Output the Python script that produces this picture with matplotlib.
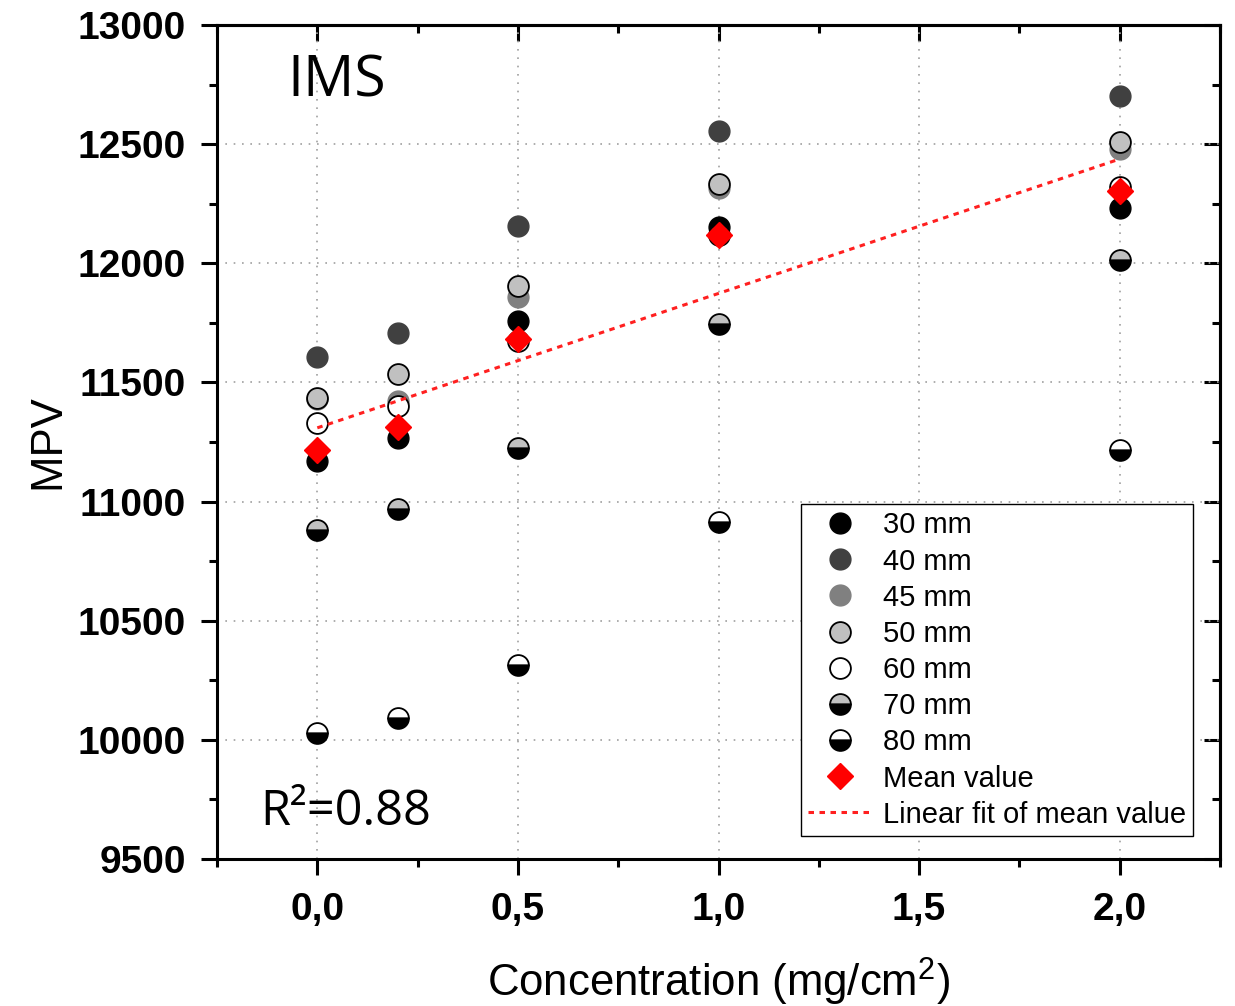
import numpy as np
import matplotlib
matplotlib.use('Agg')
import matplotlib.pyplot as plt
from matplotlib.ticker import MultipleLocator, FuncFormatter

plt.rcParams['font.family'] = ['Liberation Sans', 'DejaVu Sans']
plt.rcParams['mathtext.fontset'] = 'custom'
plt.rcParams['mathtext.rm'] = 'Liberation Sans'

# concentration (mg/cm2)
conc = [0.0, 0.2, 0.5, 1.0, 2.0]

# MPV per distance
mpv_30 = [11170, 11267, 11758, 12152, 12232]
mpv_40 = [11607, 11708, 12157, 12555, 12702]
mpv_45 = [11430, 11422, 11859, 12315, 12480]
mpv_50 = [11435, 11535, 11905, 12333, 12509]
mpv_60 = [11330, 11401, 11674, 12120, 12320]
mpv_70 = [10881, 10969, 11225, 11745, 12014]
mpv_80 = [10029, 10092, 10314, 10914, 11217]
mpv_mean = [11217, 11313, 11682, 12119, 12303]

labels = ['30 mm', '40 mm', '45 mm', '50 mm', '60 mm', '70 mm', '80 mm']

fig = plt.figure(figsize=(12.35, 10.06), dpi=100)
ax = fig.add_axes([217/1235, 1-859/1006, 1003/1235, 834/1006])

ms = 15
ax.plot(conc, mpv_30, 'o', ms=ms, color='black', mec='black', label=labels[0])
ax.plot(conc, mpv_40, 'o', ms=ms, color='#404040', mec='#404040', label=labels[1])
ax.plot(conc, mpv_45, 'o', ms=ms, color='#808080', mec='#808080', label=labels[2])
ax.plot(conc, mpv_50, 'o', ms=ms, mfc='#c0c0c0', mec='black', mew=1.3, label=labels[3])
ax.plot(conc, mpv_60, 'o', ms=ms, mfc='white', mec='black', mew=1.3, label=labels[4])
ax.plot(conc, mpv_70, 'o', ms=ms, fillstyle='top', mfc='#c0c0c0', mfcalt='black',
        mec='black', mew=1.3, label=labels[5])
ax.plot(conc, mpv_80, 'o', ms=ms, fillstyle='top', mfc='white', mfcalt='black',
        mec='black', mew=1.3, label=labels[6])
ax.plot(conc, mpv_mean, 'D', ms=13, color='red', mec='red', label='Mean value')

# linear fit of the means
k, b = np.polyfit(conc, mpv_mean, 1)
xf = np.array([conc[0], conc[-1]])
ax.plot(xf, k*xf + b, color='#ff2020', lw=2.2, ls=(0, (1.8, 1.8)),
        label='Linear fit of mean value')

ax.set_xlim(-0.25, 2.25)
ax.set_ylim(9500, 13000)
ax.xaxis.set_major_locator(MultipleLocator(0.5))
ax.xaxis.set_minor_locator(MultipleLocator(0.25))
ax.yaxis.set_major_locator(MultipleLocator(500))
ax.yaxis.set_minor_locator(MultipleLocator(250))
ax.xaxis.set_major_formatter(FuncFormatter(lambda v, p: ('%.1f' % v).replace('.', ',')))

ax.grid(True, which='major', ls=(0, (1, 4)), color='#a0a0a0', lw=1.2)
ax.set_axisbelow(True)

for s in ax.spines.values():
    s.set_linewidth(2.2)

ax.tick_params(which='major', direction='out', length=11.5, width=2.2, labelsize=28)
ax.tick_params(which='minor', direction='out', length=6, width=2.2)
ax.tick_params(axis='x', which='major', pad=12)
ax.tick_params(axis='y', which='major', pad=11)
for t in ax.get_xticklabels() + ax.get_yticklabels():
    t.set_fontweight('bold')

# inward ticks on top and right
top = ax.secondary_xaxis('top')
top.xaxis.set_major_locator(MultipleLocator(0.5))
top.xaxis.set_minor_locator(MultipleLocator(0.25))
top.tick_params(which='major', direction='in', length=11.5, width=2.2, labeltop=False)
top.tick_params(which='minor', direction='in', length=6, width=2.2)
top.spines['top'].set_linewidth(2.2)
right = ax.secondary_yaxis('right')
right.yaxis.set_major_locator(MultipleLocator(500))
right.yaxis.set_minor_locator(MultipleLocator(250))
right.tick_params(which='major', direction='in', length=11.5, width=2.2, labelright=False)
right.tick_params(which='minor', direction='in', length=6, width=2.2)
right.spines['right'].set_linewidth(2.2)

ax.set_xlabel('Concentration (mg/cm$^{\\mathregular{2}}$)', fontsize=31.5)
ax.xaxis.set_label_coords(0.5, -0.116)
ax.set_ylabel('MPV', fontsize=31.5)
ax.yaxis.set_label_coords(-0.148, 0.5)

ax.text(0.0698, 0.9137, 'IMS', transform=ax.transAxes, fontsize=41,
        family=['Open Sans', 'DejaVu Sans'], va='baseline', ha='left')
ax.text(0.0429, 0.0408, 'R²=0.88', transform=ax.transAxes, fontsize=35,
        family=['Open Sans', 'DejaVu Sans'], va='baseline', ha='left')

leg = ax.legend(loc='lower right', bbox_to_anchor=(0.973, 0.0276), borderaxespad=0,
                fontsize=21, frameon=True, fancybox=False, framealpha=1,
                edgecolor='black', handlelength=2.2, handletextpad=0.35,
                labelspacing=0.28, borderpad=0.25, numpoints=1)
leg.get_frame().set_linewidth(1.0)

fig.savefig('out.png', dpi=100)
